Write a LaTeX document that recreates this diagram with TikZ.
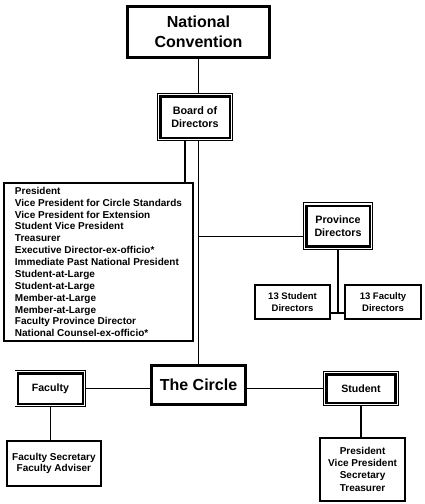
\documentclass[tikz,border=0pt]{standalone}
\usepackage{fontspec}
\setmainfont{Liberation Sans}
\usetikzlibrary{shapes}

\begin{document}
\begin{tikzpicture}[x=1pt, y=-1pt,
	thickbox/.style={rectangle, draw=black, line width=3pt, fill=white, align=center, inner sep=0pt},
	framebox/.style={rectangle, draw=black, line width=2.5pt, fill=white, align=center, inner sep=0pt, outer sep=3.5pt,
		preaction={draw=black, line width=0.8pt, double=white, double distance=5.4pt}},
	plainbox/.style={rectangle, draw=black, line width=1.7pt, fill=white, align=center, inner sep=0pt},
	link/.style={draw=black, line width=1.8pt}]
	\useasboundingbox (0,0) rectangle (425,504);
	\def\mx{198.5}
	\def\ry{302}
	\def\cy{388.5}
	\node[thickbox, minimum width=142pt, minimum height=51pt, font=\fontsize{16}{20}\selectfont\bfseries] (nc) at (\mx, 32) {National\\Convention};
	\node[framebox, minimum width=69.5pt, minimum height=41.5pt, font=\fontsize{10.8}{13.3}\selectfont\bfseries] (bod) at (195, 117) {Board of\\Directors};
	\node[plainbox, line width=2pt, align=left, minimum width=189pt, minimum height=158pt, font=\fontsize{10}{11.87}\selectfont\bfseries] (list) at (98.5, 262) {President\\Vice President for Circle Standards\\Vice President for Extension\\Student Vice President\\Treasurer\\Executive Director-ex-officio*\\Immediate Past National President\\Student-at-Large\\Student-at-Large\\Member-at-Large\\Member-at-Large\\Faculty Province Director\\National Counsel-ex-officio*};
%%%%
	\node[framebox, minimum width=63.5pt, minimum height=40.5pt, font=\fontsize{10.7}{13.3}\selectfont\bfseries] (prov) at (338, 226) {Province\\Directors};
	\node[plainbox, minimum width=75.5pt, minimum height=34.5pt, font=\fontsize{9.5}{11.7}\selectfont\bfseries] (sd) at (292.5, \ry) {13 Student\\Directors};
	\node[plainbox, minimum width=76.5pt, minimum height=34.5pt, font=\fontsize{9.5}{11.7}\selectfont\bfseries] (fd) at (383, \ry) {13 Faculty\\Directors};
%%%%
	\node[thickbox, minimum width=94pt, minimum height=39pt, font=\fontsize{16}{20}\selectfont\bfseries] (circ) at (\mx, 385) {The Circle};
	\node[framebox, minimum width=64.75pt, minimum height=30.5pt, font=\fontsize{10.6}{13}\selectfont\bfseries] (fac) at (50.4, \cy) {Faculty};
	\node[framebox, minimum width=69.25pt, minimum height=28.5pt, font=\fontsize{10.6}{13}\selectfont\bfseries] (stu) at (361, \cy) {Student};
	\node[plainbox, minimum width=94.25pt, minimum height=45.5pt, font=\fontsize{10}{11.7}\selectfont\bfseries] (fs) at (53.9, 463.5) {Faculty Secretary\\Faculty Adviser};
	\node[plainbox, line width=2pt, minimum width=85.25pt, minimum height=62.5pt, font=\fontsize{10}{12.1}\selectfont\bfseries] (off) at (362.6, 469.3) {President\\Vice President\\Secretary\\Treasurer};
%%%%
	\coordinate (jn) at ([yshift=-11pt]sd.east);
	\draw[link] (nc.south) -- (nc.south |- bod.north);
	\draw[link] ([xshift=-10pt]bod.south) -- ([xshift=-10pt]bod.south |- list.north);
	\draw[link] (circ.north |- bod.south) -- (circ.north);
	\draw[link] ([yshift=-10.5pt]prov.west) -- ([yshift=-10.5pt]prov.west -| circ.north);
	\draw[link] (prov.south) -- (prov.south |- jn);
	\draw[link] (jn) -- (jn -| fd.west);
	\draw[link] (fac.east) -- (fac.east -| circ.west);
	\draw[link] (stu.west -| circ.east) -- (stu.west);
	\draw[link] (fac.south) -- (fac.south |- fs.north);
	\draw[link] (stu.south) -- (stu.south |- off.north);
\end{tikzpicture}
\end{document}
